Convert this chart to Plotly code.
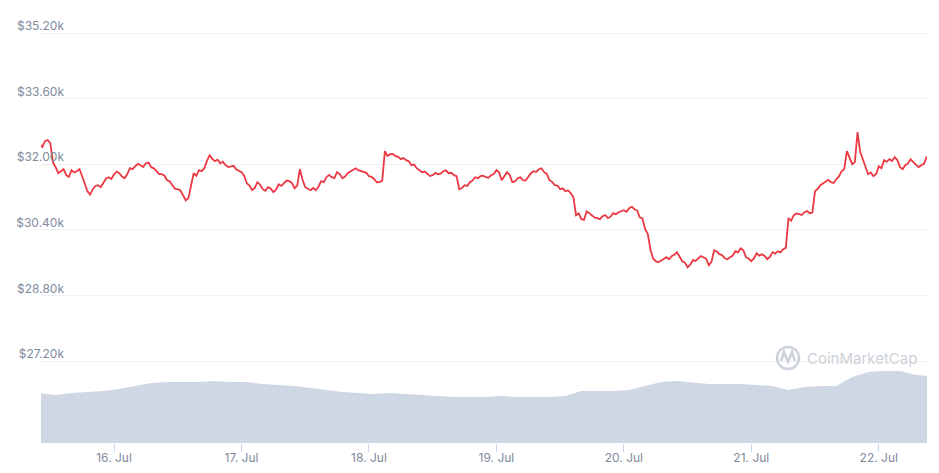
import pandas as pd
import plotly.graph_objects as go

# ---- data ----
start_time = "2021-07-15 10:00"
x_range = ["2021-07-15 10:15", "2021-07-22 09:05"]

# BTC price on the hour, USD
prices_on_hour = [
    32488, 32561, 32512, 31927, 31829, 31732, 31854, 31829, 31707, 31341,
    31390, 31488, 31561, 31683, 31756, 31780, 31659, 31902, 31951, 31976,
    32024, 31927, 31829, 31756, 31610, 31488, 31390, 31244, 31171, 31780,
    31854, 31902, 32220, 32073, 32024, 31976, 31951, 31878, 31805, 31537,
    31366, 31561, 31390, 31439, 31317, 31512, 31537, 31585, 31415, 31878,
    31439, 31366, 31366, 31585, 31683, 31683, 31805, 31659, 31780, 31854,
    31854, 31805, 31707, 31634, 31561, 32317, 32244, 32195, 32122, 32098,
    31976, 31902, 31805, 31756, 31732, 31756, 31829, 31780, 31732, 31390,
    31488, 31561, 31683, 31707, 31683, 31732, 31854, 31610, 31805, 31561,
    31659, 31610, 31683, 31829, 31878, 31805, 31610, 31488, 31390, 31341,
    31293, 30756, 30658, 30853, 30732, 30683, 30732, 30683, 30805, 30829,
    30878, 30927, 30902, 30707, 30414, 29927, 29634, 29659, 29732, 29756,
    29854, 29634, 29488, 29659, 29707, 29732, 29537, 29902, 29805, 29707,
    29732, 29878, 29951, 29732, 29634, 29829, 29805, 29683, 29854, 29878,
    29927, 30683, 30756, 30780, 30829, 30805, 31341, 31488, 31585, 31561,
    31634, 31829, 32317, 32000, 32780, 32122, 31756, 31707, 31951, 32098,
    32122, 32171, 31927, 31976, 32122, 31976, 31976, 32171, 32122,
]

# BTC price at half past each hour, USD
prices_half_hour = [
    32420, 32590, 32050, 31780, 31880, 31690, 31800, 31880, 31520, 31260,
    31470, 31440, 31650, 31640, 31820, 31700, 31760, 31880, 32010, 31930,
    32040, 31900, 31760, 31720, 31580, 31400, 31360, 31120, 31460, 31720,
    31830, 32080, 32130, 32110, 32060, 31930, 31960, 31840, 31720, 31480,
    31420, 31500, 31350, 31410, 31380, 31470, 31600, 31540, 31480, 31620,
    31400, 31420, 31450, 31560, 31740, 31660, 31760, 31700, 31820, 31900,
    31830, 31790, 31690, 31560, 31600, 32200, 32250, 32180, 32150, 32070,
    31990, 31860, 31820, 31710, 31790, 31770, 31850, 31790, 31710, 31420,
    31470, 31600, 31660, 31720, 31670, 31760, 31800, 31700, 31740, 31580,
    31680, 31600, 31780, 31810, 31900, 31760, 31570, 31480, 31410, 31360,
    31200, 30800, 30640, 30800, 30700, 30660, 30760, 30720, 30780, 30860,
    30840, 30960, 30870, 30680, 30300, 29700, 29610, 29690, 29680, 29790,
    29760, 29600, 29550, 29640, 29760, 29690, 29620, 29870, 29780, 29680,
    29770, 29850, 29900, 29700, 29700, 29770, 29760, 29740, 29820, 29850,
    29960, 30620, 30800, 30760, 30860, 30820, 31400, 31530, 31620, 31540,
    31700, 31880, 32150, 32050, 32300, 31900, 31800, 31760, 31900, 32060,
    32080, 32100, 31880, 32020, 32050, 31930, 32010, 32200,
]

# 3-hourly 24h volume, billions USD
volumes = [
    21.1, 20.3, 21.1, 21.5, 21.9, 22.8, 24.1, 25.3, 25.7, 25.7,
    25.7, 26.2, 25.7, 25.7, 24.9, 24.5, 24.1, 23.2, 22.4, 21.5,
    21.1, 20.7, 21.1, 20.7, 20.3, 19.8, 19.4, 19.4, 19.4, 19.8,
    19.4, 19.4, 19.4, 19.8, 21.9, 21.9, 21.9, 22.4, 24.1, 25.7,
    26.2, 25.7, 24.9, 24.9, 24.9, 24.5, 24.1, 22.4, 23.6, 24.1,
    24.1, 27.8, 30.0, 30.4, 30.4, 28.7, 28.3,
]

price_ticks = [27200, 28800, 30400, 32000, 33600, 35200]
price_tick_labels = ["$27.20k", "$28.80k", "$30.40k", "$32.00k", "$33.60k", "$35.20k"]

# interleave the on-hour and half-hour readings into one half-hourly series
prices = []
for i, p in enumerate(prices_on_hour):
    prices.append(p)
    if i < len(prices_half_hour):
        prices.append(prices_half_hour[i])

price_times = pd.date_range(start_time, periods=len(prices), freq="30min")
volume_times = pd.date_range(start_time, periods=len(volumes), freq="3h")

TEXT = "#808a9d"
GRID = "#eff2f5"

# the page body keeps its default 8px margin, so the figure is sized to fit
W, H = 931, 465
L, R, T, B = 33, 12, 12, 30

fig = go.Figure()
fig.add_trace(go.Scatter(
    x=volume_times, y=volumes, yaxis="y2", mode="lines",
    line=dict(width=0, color="#cfd6e4"), fill="tozeroy",
    fillcolor="#cfd6e4", hoverinfo="skip", showlegend=False,
))
fig.add_trace(go.Scatter(
    x=price_times, y=prices, mode="lines",
    line=dict(color="#ea3943", width=1.8), showlegend=False,
))

fig.update_layout(
    width=W, height=H,
    margin=dict(l=L, r=R, t=T, b=B, autoexpand=False),
    paper_bgcolor="white", plot_bgcolor="white",
    font=dict(family="Inter, sans-serif", size=12, color=TEXT),
    xaxis=dict(
        type="date", range=x_range, showgrid=False, zeroline=False,
        showline=False, dtick=86400000, tick0="2021-07-16",
        tickformat="%d. %b", ticks="outside", ticklen=8,
        tickcolor="#ccd6eb", tickwidth=1, ticklabelstandoff=-4,
        tickfont=dict(size=12, color=TEXT),
    ),
    yaxis=dict(
        range=[25200, 35517], tickvals=price_ticks, ticktext=price_tick_labels,
        showgrid=True, gridcolor=GRID, gridwidth=1, zeroline=False,
        showline=False, ticks="", ticklabelstandoff=-24, ticklabelshift=-7,
        tickfont=dict(size=12, color=TEXT),
    ),
    yaxis2=dict(
        range=[0, 178.5], overlaying="y", side="right", visible=False,
        showgrid=False,
    ),
)

# CoinMarketCap watermark (positions given in screen pixels of the reference)
plot_w = W - L - R
plot_h = H - T - B

def px(x):
    return (x - 8 - L) / plot_w

def py(y):
    return (H - B + 8 - y) / plot_h

fig.add_shape(type="circle", xref="paper", yref="paper",
              x0=px(777), x1=px(799), y0=py(369), y1=py(347),
              line=dict(color="#cdd2da", width=2.5))
fig.add_shape(type="path", xref="paper", yref="paper",
              path=(f"M {px(781)},{py(361)} L {px(784)},{py(352)} L {px(788)},{py(362)} "
                    f"L {px(792)},{py(352)} L {px(795)},{py(361)}"),
              line=dict(color="#cdd2da", width=2.5))
fig.add_annotation(text="CoinMarketCap", xref="paper", yref="paper",
                   x=px(805), y=py(358), xanchor="left", yanchor="middle",
                   showarrow=False,
                   font=dict(family="Inter, sans-serif", size=15, color="#cdd2da"))

fig.write_html("out.html")
